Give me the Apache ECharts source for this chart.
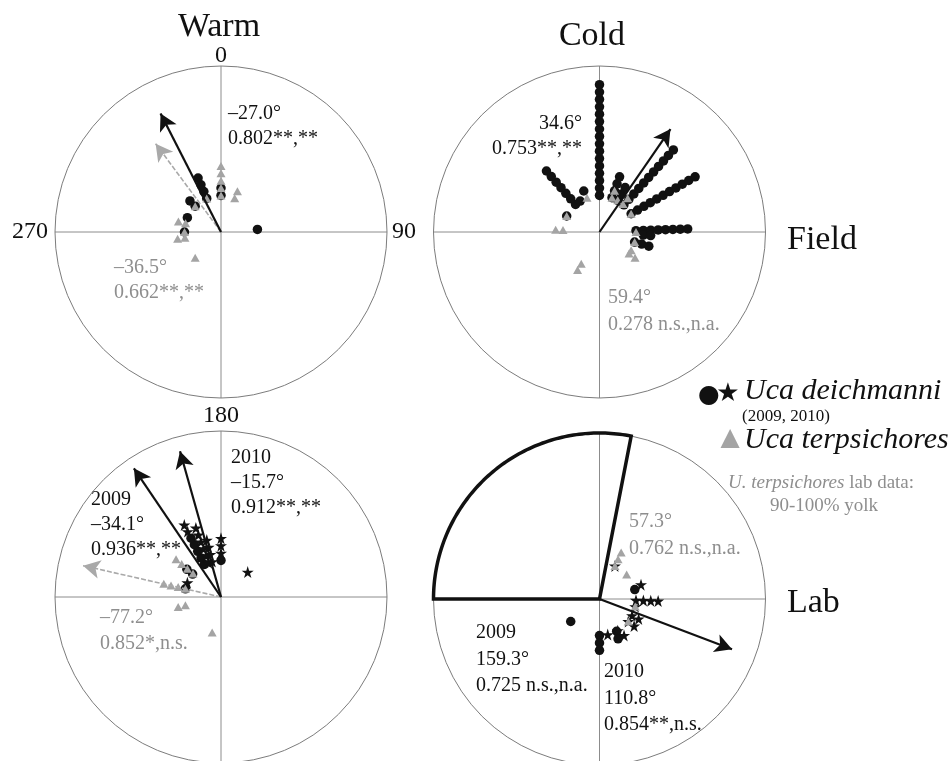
<!DOCTYPE html>
<html>
<head>
<meta charset="utf-8">
<script src="https://cdn.jsdelivr.net/npm/echarts@6/dist/echarts.min.js"></script>
<style>
  html, body { margin: 0; padding: 0; background: #fff; }
  #chart { width: 948px; height: 761px; }
</style>
</head>
<body>
<div id="chart"></div>
<script>
// Orientation headings, as stacked dot runs: [heading (deg), first stack level, dot count]
// Field, warm
const udWarmField = [[0, 0, 2], [-23, 0, 4], [-45, 0, 2], [-67, 0, 1], [-90, 0, 1], [86, 0, 1]];
const utWarmField = [[0, 0, 5], [22, 0, 2], [-23, 0, 1], [-45, 0, 1], [-76, 0, 2], [-90, 0, 1], [-99, 0, 2], [225, 0, 1]];
// Field, cold
const udColdField = [[0, 0, 16], [-41, 0, 7], [-32, 0, 1], [-21, 1, 1], [-64, 0, 1], [20, 0, 4], [30, 0, 3],
                     [42, 0, 11], [60, 0, 11], [88, 0, 8], [94, 1, 2], [106, 0, 3]];
const utColdField = [[-20, 0, 1], [-64, 0, 1], [-87, 0, 2], [210, 0, 2], [20, 0, 2], [30, 0, 1], [40, 0, 2],
                     [60, 0, 1], [90, 0, 1], [106, 0, 1], [120, 0, 1], [126, 0, 2]];
// Lab, warm (2009 = circles, 2010 = stars)
const ud2009WarmLab = [[0, 0, 1], [-27, 0, 5], [-51, 0, 2], [-77, 0, 1]];
const ud2010WarmLab = [[0, 1, 3], [47, 0, 1], [-67, 0, 1], [-27, 5, 2], [-20, 0, 6], [-14, 0, 4]];
const utWarmLab = [[-50, 0, 4], [-77, 0, 4], [257, 0, 2], [194, 0, 1]];
// Lab, cold
const ud2009ColdLab = [[75, 0, 1], [152, 0, 1], [155, 1, 1], [180, 0, 3], [232, 0, 1]];
const ud2010ColdLab = [[25, 0, 1], [71, 1, 1], [92, 0, 4], [102, 0, 1], [117, 0, 2], [128, 0, 2], [146, 1, 1], [150, 0, 1], [167, 0, 1]];
const utColdLab = [[25, 0, 3], [48, 0, 1], [102, 0, 1], [128, 0, 1]];

// Mean vectors: [mean heading (deg), r, significance]
const meanWarmFieldUd = [-27.0, 0.802, '**,**'];
const meanWarmFieldUt = [-36.5, 0.662, '**,**'];
const meanColdFieldUd = [34.6, 0.753, '**,**'];
const meanColdFieldUt = [59.4, 0.278, ' n.s.,n.a.'];
const meanWarmLab2009 = [-34.1, 0.936, '**,**'];
const meanWarmLab2010 = [-15.7, 0.912, '**,**'];
const meanWarmLabUt = [-77.2, 0.852, '*,n.s.'];
const meanColdLab2009 = [159.3, 0.725, ' n.s.,n.a.'];
const meanColdLab2010 = [110.8, 0.854, '**,n.s.'];
const meanColdLabUt = [57.3, 0.762, ' n.s.,n.a.'];

// Sector highlighted in the cold lab panel: [from, to] heading (deg)
const labWedge = [270, 11];

// Compass tick labels
const compassTicks = [0, 90, 180, 270];

const BLACK = '#111111';
const GREY = '#a4a4a4';
const GREY_TEXT = '#8e8e8e';
const SERIF = '"Liberation Serif", "Times New Roman", serif';
const SYM = '"DejaVu Sans"';
const STAR = 'path://M50,0 L61.2,34.5 L97.6,34.5 L68.2,55.9 L79.4,90.5 L50,69.1 L20.6,90.5 L31.8,55.9 L2.4,34.5 L38.8,34.5 Z';

const R0 = 0.22, STEP = 0.0445;
const norm = a => ((a % 360) + 360) % 360;
function stack(runs) {
  const out = [];
  runs.forEach(([a, l0, n]) => {
    for (let k = 0; k < n; k++) out.push([R0 + (l0 + k) * STEP, norm(a)]);
  });
  return out;
}

const panels = [
  { center: [221, 232], radius: 166 },
  { center: [599.5, 232], radius: 166 },
  { center: [221, 597], radius: 166 },
  { center: [599.5, 599], radius: 166 }
];

function dots(pi, runs, kind) {
  const base = { type: 'scatter', coordinateSystem: 'polar', polarIndex: pi, silent: true, data: stack(runs) };
  if (kind === 'circle') return Object.assign(base, { symbol: 'circle', symbolSize: 9.5, itemStyle: { color: BLACK, opacity: 1 }, z: 2 });
  if (kind === 'star') return Object.assign(base, { symbol: STAR, symbolSize: 12, itemStyle: { color: BLACK, opacity: 1 }, z: 2 });
  return Object.assign(base, { symbol: 'triangle', symbolSize: [9, 8], itemStyle: { color: GREY, opacity: 1 }, z: 3 });
}

function arrow(pi, m, grey) {
  const color = grey ? '#a9a9a9' : BLACK;
  const a = norm(m[0]);
  return {
    type: 'line', coordinateSystem: 'polar', polarIndex: pi, silent: true, z: 5,
    data: [
      { value: [0, a], symbol: 'none' },
      { value: [m[1], a], symbol: 'arrow', symbolSize: [14, 17], symbolRotate: -m[0] }
    ],
    lineStyle: { color, width: grey ? 1.6 : 2.2, type: grey ? [5, 2] : 'solid', opacity: 1 },
    itemStyle: { color, opacity: 1 }
  };
}

const fmtAngle = m => (m[0] < 0 ? '\u2013' : '') + Math.abs(m[0]).toFixed(1) + '\u00b0';
const fmtR = m => m[1].toFixed(3) + m[2];

function txt(x, y, text, o) {
  o = o || {};
  return {
    type: 'text', x, y, silent: true,
    style: {
      text, fill: o.fill || BLACK, fontFamily: o.family || SERIF, fontSize: o.size || 20,
      fontStyle: o.italic ? 'italic' : 'normal', align: o.align || 'left', verticalAlign: 'middle',
      rich: o.rich
    }
  };
}
function lines(x, y, arr, o, gap) {
  return arr.map((t, i) => txt(x, y + i * (gap || 25), t, o));
}

const angleAxes = panels.map((p, i) => ({
  polarIndex: i, type: 'value', min: 0, max: 360, interval: 90, startAngle: 90, clockwise: true,
  axisLine: { show: true, lineStyle: { color: '#7c7c7c', width: 1 } },
  axisTick: { show: false },
  splitLine: { show: true, lineStyle: { color: '#8c8c8c', width: 1 } },
  axisLabel: {
    show: i === 0, margin: 0, color: BLACK, fontFamily: SERIF, fontSize: 24,
    formatter: v => compassTicks.indexOf(v) < 0 ? '' : ({ 0: '{n|0}', 90: '{e|90}', 180: '{s|180}', 270: '{w|270}' })[v],
    rich: {
      n: { fontFamily: SERIF, fontSize: 24, color: BLACK, lineHeight: 20 },
      e: { fontFamily: SERIF, fontSize: 24, color: BLACK, padding: [0, 0, 0, 5] },
      s: { fontFamily: SERIF, fontSize: 24, color: BLACK, padding: [6, 0, 0, 0] },
      w: { fontFamily: SERIF, fontSize: 24, color: BLACK, padding: [0, 7, 0, 0] }
    }
  }
}));
const radiusAxes = panels.map((p, i) => ({
  polarIndex: i, type: 'value', min: 0, max: 1,
  axisLine: { show: false }, axisTick: { show: false }, axisLabel: { show: false }, splitLine: { show: false }
}));

const series = [
  // field, warm
  dots(0, udWarmField, 'circle'), dots(0, utWarmField, 'tri'),
  arrow(0, meanWarmFieldUt, true), arrow(0, meanWarmFieldUd, false),
  // field, cold
  dots(1, udColdField, 'circle'), dots(1, utColdField, 'tri'),
  arrow(1, meanColdFieldUd, false),
  // lab, warm
  dots(2, ud2009WarmLab, 'circle'), dots(2, ud2010WarmLab, 'star'), dots(2, utWarmLab, 'tri'),
  arrow(2, meanWarmLabUt, true), arrow(2, meanWarmLab2009, false), arrow(2, meanWarmLab2010, false),
  // lab, cold
  {
    type: 'custom', coordinateSystem: 'polar', polarIndex: 3, silent: true, z: 4,
    data: [[1, labWedge[0], labWedge[1]]],
    renderItem: (params, api) => {
      const r = api.value(0), a0 = api.value(1);
      let a1 = api.value(2);
      if (a1 < a0) a1 += 360;
      const pts = [api.coord([0, 0])];
      for (let a = a0; a < a1; a += 1) pts.push(api.coord([r, a % 360]));
      pts.push(api.coord([r, a1 % 360]));
      return { type: 'polygon', shape: { points: pts }, style: { fill: 'none', stroke: BLACK, lineWidth: 3.5, lineJoin: 'miter' } };
    }
  },
  dots(3, ud2009ColdLab, 'circle'), dots(3, ud2010ColdLab, 'star'), dots(3, utColdLab, 'tri'),
  arrow(3, meanColdLab2010, false)
];

const graphic = [
  txt(219, 27, 'Warm', { size: 34, align: 'center' }),
  txt(592, 36, 'Cold', { size: 34, align: 'center' }),
  txt(787, 240, 'Field', { size: 34 }),
  txt(787, 603, 'Lab', { size: 34 }),
  // field, warm
  ...lines(228, 114, [fmtAngle(meanWarmFieldUd), fmtR(meanWarmFieldUd)]),
  ...lines(114, 268, [fmtAngle(meanWarmFieldUt), fmtR(meanWarmFieldUt)], { fill: GREY_TEXT }),
  // field, cold
  ...lines(582, 124, [fmtAngle(meanColdFieldUd), fmtR(meanColdFieldUd)], { align: 'right' }),
  ...lines(608, 298, [fmtAngle(meanColdFieldUt), fmtR(meanColdFieldUt)], { fill: GREY_TEXT }, 27),
  // lab, warm
  ...lines(231, 458, ['2010', fmtAngle(meanWarmLab2010), fmtR(meanWarmLab2010)]),
  ...lines(91, 500, ['2009', fmtAngle(meanWarmLab2009), fmtR(meanWarmLab2009)]),
  ...lines(100, 618, [fmtAngle(meanWarmLabUt), fmtR(meanWarmLabUt)], { fill: GREY_TEXT }, 26),
  // lab, cold
  ...lines(629, 522, [fmtAngle(meanColdLabUt), fmtR(meanColdLabUt)], { fill: GREY_TEXT }, 27),
  ...lines(476, 633, ['2009', fmtAngle(meanColdLab2009), fmtR(meanColdLab2009)], {}, 26.5),
  ...lines(604, 672, ['2010', fmtAngle(meanColdLab2010), fmtR(meanColdLab2010)], {}, 26.5),
  // species key
  txt(709, 395, '\u25cf', { family: SYM, size: 25, align: 'center' }),
  txt(728, 394, '\u2605', { family: SYM, size: 26, align: 'center' }),
  txt(744, 391, 'Uca deichmanni', { size: 30, italic: true }),
  txt(742, 417, '(2009, 2010)', { size: 17 }),
  txt(730, 438, '\u25b2', { family: SYM, size: 25, fill: GREY, align: 'center' }),
  txt(744, 440, 'Uca terpsichores', { size: 30, italic: true }),
  txt(728, 483, '{i|U. terpsichores} lab data:', {
    size: 19, fill: GREY_TEXT,
    rich: { i: { fontStyle: 'italic', fontFamily: SERIF, fontSize: 19, fill: GREY_TEXT, color: GREY_TEXT } }
  }),
  txt(824, 506, '90-100% yolk', { size: 19, fill: GREY_TEXT, align: 'center' })
];

const chart = echarts.init(document.getElementById('chart'), null, { renderer: 'canvas' });
chart.setOption({
  animation: false,
  backgroundColor: '#fff',
  polar: panels,
  angleAxis: angleAxes,
  radiusAxis: radiusAxes,
  series,
  graphic
});
</script>
</body>
</html>
